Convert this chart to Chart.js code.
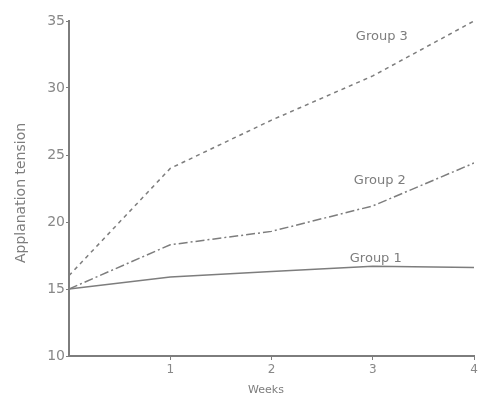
<!DOCTYPE html>
<html>
<head>
<meta charset="utf-8">
<script src="https://cdn.jsdelivr.net/npm/chart.js@4"></script>
<style>
  html, body { margin: 0; padding: 0; background: #fff; }
  #wrap { width: 482px; height: 397px; }
</style>
</head>
<body>
<div id="wrap"><canvas id="tension"></canvas></div>
<script>
  // Values
  const weeks = [0, 1, 2, 3, 4];
  const group1 = [15.0, 15.9, 16.3, 16.7, 16.6];
  const group2 = [15.0, 18.3, 19.3, 21.2, 24.4];
  const group3 = [16.0, 24.0, 27.6, 30.9, 35.0];
  const yTicks = [10, 15, 20, 25, 30, 35];
  const xTicks = [1, 2, 3, 4];

  const ink = '#7d7d7d';
  const pts = (ys) => weeks.map((w, i) => ({ x: w, y: ys[i] }));

  // group labels placed next to their lines, in data units
  const groupLabels = [
    { text: 'Group 3', x: 3.09, y: 33.8 },
    { text: 'Group 2', x: 3.07, y: 23.1 },
    { text: 'Group 1', x: 3.03, y: 17.3 }
  ];

  const textPlugin = {
    id: 'plotText',
    afterDraw(chart) {
      const { ctx, scales } = chart;
      ctx.save();
      ctx.fillStyle = ink;
      ctx.textAlign = 'center';
      ctx.textBaseline = 'middle';
      ctx.font = '13px "DejaVu Sans"';
      groupLabels.forEach(l => {
        ctx.fillText(l.text, scales.x.getPixelForValue(l.x), scales.y.getPixelForValue(l.y));
      });
      // axis titles
      ctx.font = '11px "DejaVu Sans"';
      ctx.fillText('Weeks', 266, 390);
      ctx.translate(21, 193);
      ctx.rotate(-Math.PI / 2);
      ctx.font = '14px "DejaVu Sans"';
      ctx.fillText('Applanation tension', 0, 0);
      ctx.restore();
    }
  };

  new Chart(document.getElementById('tension'), {
    type: 'line',
    data: {
      datasets: [
        { label: 'Group 1', data: pts(group1), borderColor: ink, borderWidth: 1.5, pointRadius: 0, tension: 0 },
        { label: 'Group 2', data: pts(group2), borderColor: ink, borderWidth: 1.5, borderDash: [9, 3, 2, 3], pointRadius: 0, tension: 0 },
        { label: 'Group 3', data: pts(group3), borderColor: ink, borderWidth: 1.5, borderDash: [4, 4], pointRadius: 0, tension: 0 }
      ]
    },
    options: {
      responsive: true,
      maintainAspectRatio: false,
      animation: false,
      layout: { padding: { top: 21, right: 8, bottom: 0, left: 0 } },
      plugins: { legend: { display: false }, tooltip: { enabled: false } },
      scales: {
        x: {
          type: 'linear',
          min: 0, max: 4,
          afterFit: (s) => { s.height = 41; },
          afterBuildTicks: (s) => { s.ticks = xTicks.map(v => ({ value: v })); },
          border: { color: ink, width: 2 },
          grid: { drawOnChartArea: false, color: ink, tickLength: 4 },
          ticks: { color: '#888', font: { family: 'DejaVu Sans', size: 12 }, padding: 3, maxRotation: 0 }
        },
        y: {
          min: 10, max: 35,
          afterFit: (s) => { s.width = 69; },
          afterBuildTicks: (s) => { s.ticks = yTicks.map(v => ({ value: v })); },
          border: { color: ink, width: 2 },
          grid: { drawOnChartArea: false, color: ink, tickLength: 3 },
          ticks: { color: '#888', font: { family: 'DejaVu Sans', size: 14 }, padding: 1 }
        }
      }
    },
    plugins: [textPlugin]
  });
</script>
</body>
</html>
